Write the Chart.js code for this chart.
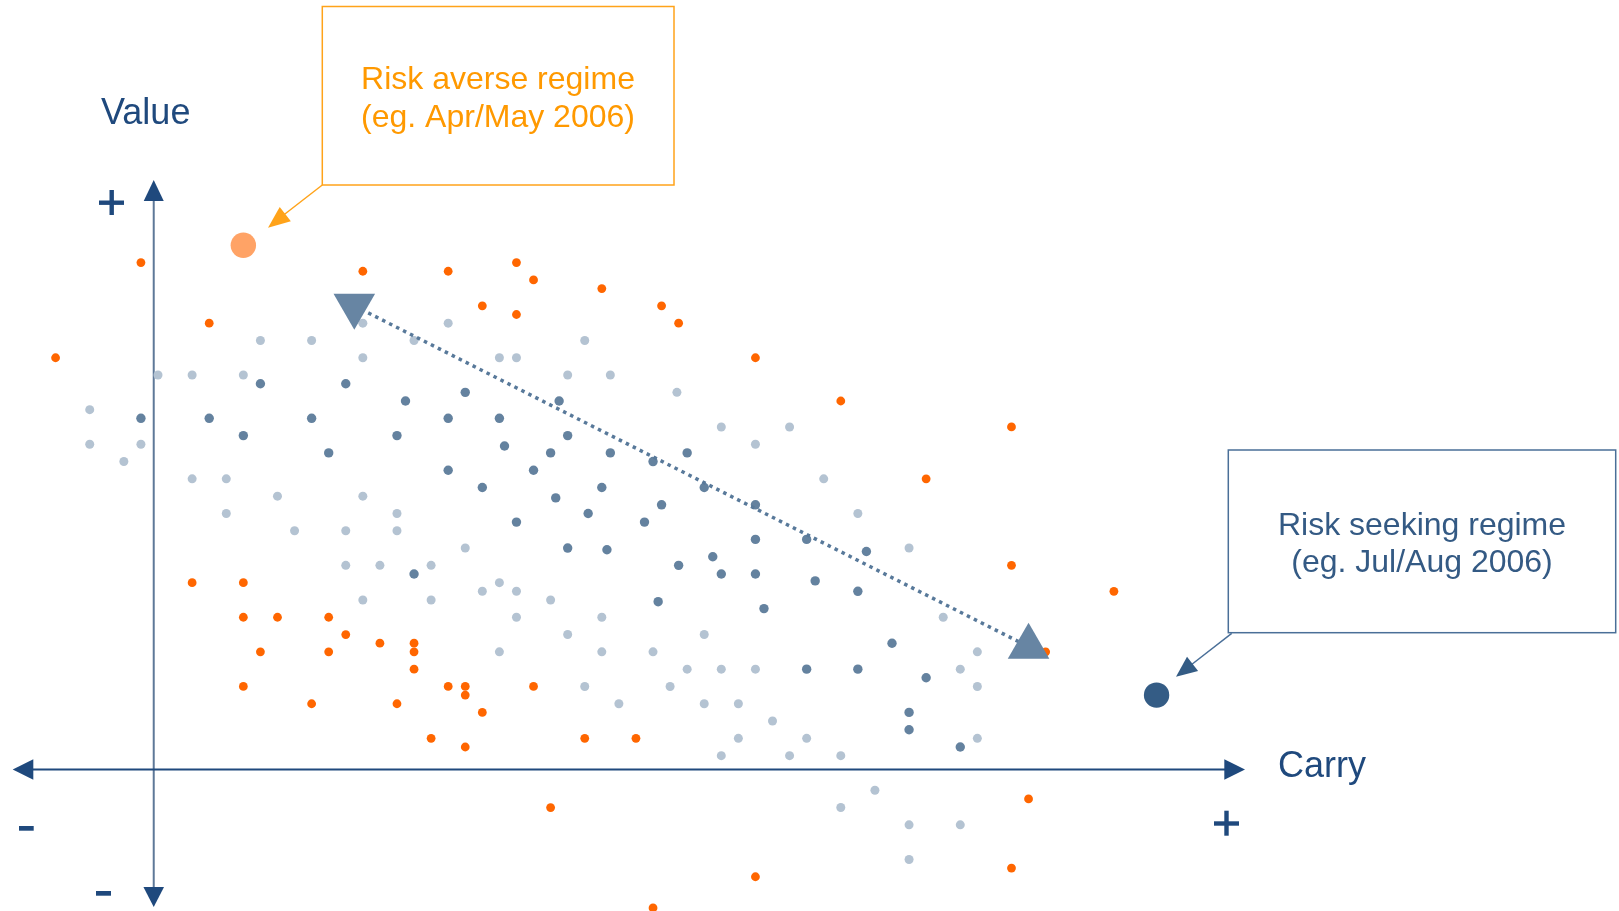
<!DOCTYPE html>
<html>
<head>
<meta charset="utf-8">
<script src="https://cdn.jsdelivr.net/npm/chart.js@4.4.1/dist/chart.umd.min.js"></script>
<style>
  html, body { margin: 0; padding: 0; background: #fff; }
  #wrap { width: 1619px; height: 911px; position: relative; }
</style>
</head>
<body>
<div id="wrap"><canvas id="myChart"></canvas></div>
<script>
// [carry, value] pairs (arbitrary grid units)
const lightPoints = [
  [-4, 21], [-4, 19], [-2, 18], [-1, 19], [0, 23], [2, 23], [5, 23], [6, 25], [9, 25], [12, 24], [12, 26],
  [15, 25], [17, 26], [20, 24], [21, 24], [25, 25], [24, 23], [26.5, 23], [30.4, 22], [33, 20],
  [37, 20], [35, 19], [39, 17], [41, 15], [44, 13], [46, 9], [48, 7], [47, 6], [48, 5], [48, 2],
  [2, 17], [4, 17], [7, 16], [12, 16], [4, 15], [8, 14], [11, 14], [11, 12], [13, 12], [12, 10],
  [14, 15], [14, 14], [18, 13], [16, 12], [20, 11], [19, 10.5], [21, 10.5], [16, 10], [23, 10],
  [21, 9], [26, 9], [24, 8], [32, 8], [20, 7], [26, 7], [29, 7], [31, 6], [33, 6], [35, 6],
  [25, 5], [30, 5], [27, 4], [32, 4], [34, 4], [36, 3], [34, 2], [38, 2], [33, 1], [37, 1], [40, 1],
  [42, -1], [40, -2], [44, -3], [47, -3], [44, -5]
];
const darkPoints = [
  [-1, 20.5], [3, 20.5], [5, 19.5], [6, 22.5], [9, 20.5], [10, 18.5], [11, 22.5],
  [14, 19.5], [14.5, 21.5], [17, 20.5], [17, 17.5], [18, 22], [19, 16.5], [20, 20.5], [20.3, 18.9],
  [21, 14.5], [22, 17.5], [23, 18.5], [23.5, 21.5], [23.3, 15.9], [24, 19.5], [24, 13], [25.2, 15],
  [26, 16.5], [26.5, 18.5], [26.3, 12.9], [28.5, 14.5], [29, 18], [29.5, 15.5], [29.3, 9.9],
  [30.5, 12], [31, 18.5], [32, 16.5], [32.5, 12.5], [33, 11.5], [15, 11.5],
  [35, 15.5], [35, 13.5], [35, 11.5], [35.5, 9.5], [38, 13.5], [38.5, 11.1], [41.5, 12.8],
  [41, 10.5], [43, 7.5], [38, 6], [41, 6], [45, 5.5], [44, 3.5], [44, 2.5], [47, 1.5]
];
const orangePoints = [
  [-6, 24], [-1, 29.5], [3, 26], [12, 29], [17, 29], [19, 27], [21, 29.5], [21, 26.5], [22, 28.5],
  [26, 28], [29.5, 27], [30.5, 26], [35, 24], [40, 21.5], [50, 20], [45, 17], [50, 12], [56, 10.5],
  [52, 7], [2, 11], [5, 11], [5, 9], [7, 9], [10, 9], [11, 8], [13, 7.5], [6, 7], [10, 7],
  [15, 7.5], [15, 7], [15, 6], [5, 5], [17, 5], [18, 5], [18, 4.5], [22, 5], [9, 4], [14, 4],
  [19, 3.5], [16, 2], [18, 1.5], [25, 2], [28, 2], [23, -2], [51, -1.5], [50, -5.5], [35, -6], [29, -7.8]
];
const riskAversePoint = [[5, 30.5]];
const riskSeekingPoint = [[58.5, 4.5]];
const shiftLine = [[11.5, 27], [51, 7.3]];

const axisCross = [-0.25, 0.2];
const xRange = [-9.256, 85.59];
const yRange = [-7.98, 44.68];

const averseLabel = ['Risk averse regime', '(eg. Apr/May 2006)'];
const seekingLabel = ['Risk seeking regime', '(eg. Jul/Aug 2006)'];

const FONT = '"Liberation Sans", Arial, sans-serif';
const NAVY = '#1F497D';

function toXY(arr) {
  return arr.map((p) => ({ x: p[0], y: p[1] }));
}

function tri(ctx, tipX, tipY, fromX, fromY, len, half, color) {
  const a = Math.atan2(tipY - fromY, tipX - fromX);
  const bx = tipX - Math.cos(a) * len;
  const by = tipY - Math.sin(a) * len;
  ctx.fillStyle = color;
  ctx.beginPath();
  ctx.moveTo(tipX, tipY);
  ctx.lineTo(bx + Math.sin(a) * half, by - Math.cos(a) * half);
  ctx.lineTo(bx - Math.sin(a) * half, by + Math.cos(a) * half);
  ctx.closePath();
  ctx.fill();
}

const decor = {
  id: 'decor',
  beforeDatasetsDraw(chart) {
    const ctx = chart.ctx;
    const ox = chart.scales.x.getPixelForValue(axisCross[0]);
    const oy = chart.scales.y.getPixelForValue(axisCross[1]);
    ctx.save();
    // vertical axis
    ctx.strokeStyle = '#5E7898';
    ctx.lineWidth = 2;
    ctx.beginPath();
    ctx.moveTo(ox, 200);
    ctx.lineTo(ox, 889);
    ctx.stroke();
    // horizontal axis
    ctx.strokeStyle = NAVY;
    ctx.beginPath();
    ctx.moveTo(32, oy);
    ctx.lineTo(1226, oy);
    ctx.stroke();
    tri(ctx, ox, 180, ox, 300, 21, 10, NAVY);
    tri(ctx, ox, 907, ox, 800, 20, 10.3, NAVY);
    tri(ctx, 12.7, oy, 100, oy, 20.6, 10.3, NAVY);
    tri(ctx, 1245, oy, 1100, oy, 20.7, 10.3, NAVY);
    ctx.restore();
  },
  afterDatasetsDraw(chart) {
    const ctx = chart.ctx;
    ctx.save();
    ctx.textBaseline = 'alphabetic';

    // axis titles
    ctx.fillStyle = NAVY;
    ctx.font = '36px ' + FONT;
    ctx.textAlign = 'left';
    ctx.fillText('Value', 101, 124);
    ctx.fillText('Carry', 1278, 777);

    // plus / minus signs
    ctx.fillRect(99, 200.5, 25, 4.4);
    ctx.fillRect(109.5, 190, 4.4, 25);
    ctx.fillRect(1214, 821.3, 25, 4.4);
    ctx.fillRect(1224.3, 810.7, 4.4, 25);
    ctx.fillRect(19, 826, 14.7, 4.7);
    ctx.fillRect(96, 891, 15, 4.7);

    // risk averse box
    ctx.strokeStyle = '#FFA31A';
    ctx.lineWidth = 1.5;
    ctx.strokeRect(322.3, 6.5, 351.7, 178.5);
    ctx.beginPath();
    ctx.moveTo(322.3, 185);
    ctx.lineTo(283, 215.5);
    ctx.stroke();
    tri(ctx, 268, 227.7, 322.3, 185, 22, 9, '#FFA31A');
    ctx.fillStyle = '#FF9900';
    ctx.font = '32px ' + FONT;
    ctx.textAlign = 'center';
    ctx.fillText(averseLabel[0], 498, 89);
    ctx.fillText(averseLabel[1], 498, 127);

    // risk seeking box
    ctx.strokeStyle = '#4A6F98';
    ctx.lineWidth = 1.5;
    ctx.strokeRect(1228.3, 450, 387.4, 182.7);
    ctx.beginPath();
    ctx.moveTo(1231.7, 633.3);
    ctx.lineTo(1191, 665);
    ctx.stroke();
    tri(ctx, 1176, 676.7, 1231.7, 633.3, 21, 9, '#345C85');
    ctx.fillStyle = '#345A84';
    ctx.fillText(seekingLabel[0], 1422, 535);
    ctx.fillText(seekingLabel[1], 1422, 572);
    ctx.restore();
  }
};

new Chart(document.getElementById('myChart'), {
  type: 'scatter',
  data: {
    datasets: [
      {
        label: 'shift',
        data: toXY(shiftLine),
        showLine: true,
        borderColor: '#58799A',
        borderWidth: 3.5,
        borderDash: [3.5, 4.3],
        pointStyle: 'triangle',
        pointRadius: 24,
        pointRotation: [180, 0],
        pointBackgroundColor: '#6785A3',
        pointBorderWidth: 0,
        order: 0
      },
      {
        label: 'risk averse',
        data: toXY(riskAversePoint),
        pointRadius: 12.7,
        pointBackgroundColor: '#FFA366',
        pointBorderWidth: 0,
        order: 1
      },
      {
        label: 'risk seeking',
        data: toXY(riskSeekingPoint),
        pointRadius: 12.7,
        pointBackgroundColor: '#345C85',
        pointBorderWidth: 0,
        order: 1
      },
      {
        label: 'orange',
        data: toXY(orangePoints),
        pointRadius: 4.4,
        pointBackgroundColor: '#FF6600',
        pointBorderWidth: 0,
        order: 2
      },
      {
        label: 'dark',
        data: toXY(darkPoints),
        pointRadius: 4.7,
        pointBackgroundColor: '#64829F',
        pointBorderWidth: 0,
        order: 3
      },
      {
        label: 'light',
        data: toXY(lightPoints),
        pointRadius: 4.5,
        pointBackgroundColor: '#B4C3D2',
        pointBorderWidth: 0,
        order: 4
      }
    ]
  },
  options: {
    responsive: true,
    maintainAspectRatio: false,
    animation: false,
    events: [],
    layout: { padding: 0, autoPadding: false },
    plugins: {
      legend: { display: false },
      tooltip: { enabled: false }
    },
    scales: {
      x: { type: 'linear', min: xRange[0], max: xRange[1], display: false },
      y: { type: 'linear', min: yRange[0], max: yRange[1], display: false }
    }
  },
  plugins: [decor]
});
</script>
</body>
</html>
